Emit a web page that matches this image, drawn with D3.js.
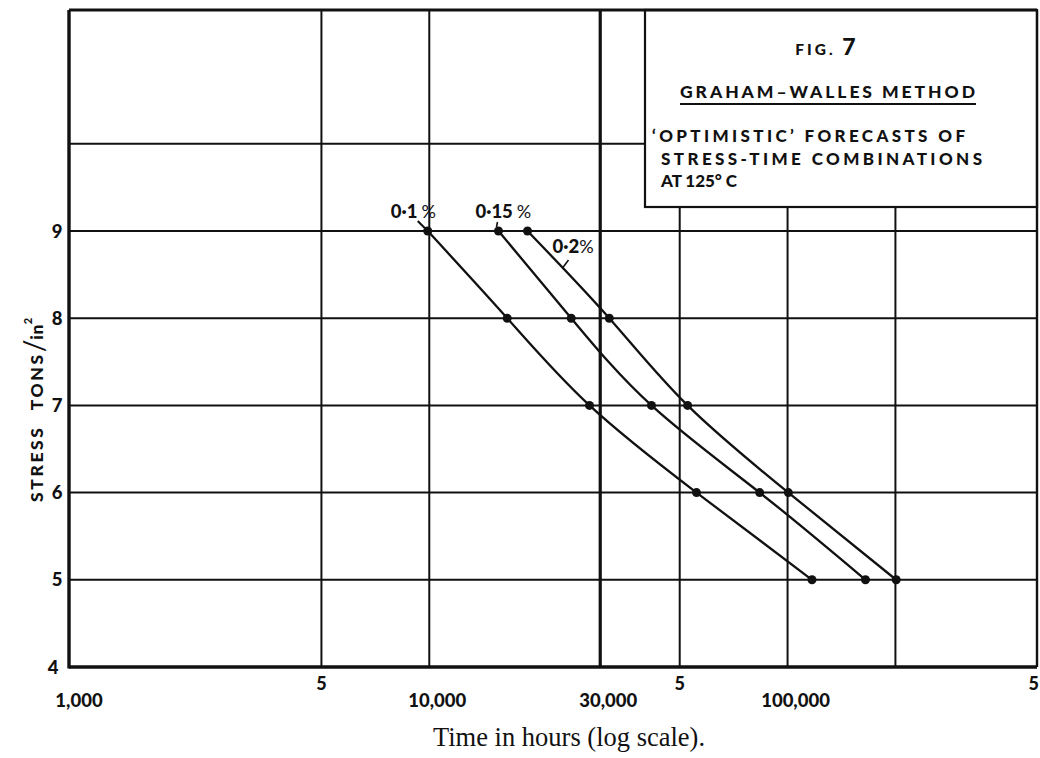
<!DOCTYPE html>
<html>
<head>
<meta charset="utf-8">
<script src="https://cdn.jsdelivr.net/npm/d3@7"></script>
<style>
  html, body { margin: 0; padding: 0; background: #fff; }
  svg { display: block; }
  .bold { font-family: Lato, "DejaVu Sans", sans-serif; font-weight: 900; fill: #111; }
</style>
</head>
<body>
<svg id="chart" width="1040" height="758"></svg>
<script>
// Creep forecasts: stress (tons/in²) against time to reach a given strain (hours, log scale)
const stressLevels = [9, 8, 7, 6, 5];
const hoursStrain01 = [9900, 16500, 28000, 55700, 117000];
const hoursStrain015 = [15600, 24900, 41700, 83600, 165000];
const hoursStrain02 = [18800, 31800, 52600, 100500, 201000];
const seriesNames = ["0·1", "0·15", "0·2"];

const xGridValues = [5000, 10000, 30000, 50000, 100000, 200000];
const xNumberTicks = [1000, 10000, 30000, 100000];
const xNumberLabels = ["1,000", "10,000", "30,000", "100,000"];
const xFiveTicks = [5000, 50000, 500000];
const yGridValues = [5, 6, 7, 8, 9, 10];
const yTickValues = [4, 5, 6, 7, 8, 9];

const svg = d3.select("#chart");
const x = d3.scaleLog().domain([1000, 500000]).range([71, 1038]);
const y = d3.scaleLinear().domain([4, 9]).range([667, 231]);

const frame = { left: 69, right: 1037, top: 10, bottom: 667 };
const box = { left: 645, right: 1037, top: 10, bottom: 207 };

// grid
svg.append("g").selectAll("line").data(yGridValues).join("line")
  .attr("x1", frame.left).attr("x2", frame.right)
  .attr("y1", d => y(d)).attr("y2", d => y(d))
  .attr("stroke", "#111").attr("stroke-width", 2);

svg.append("g").selectAll("line").data(xGridValues).join("line")
  .attr("x1", d => x(d)).attr("x2", d => x(d))
  .attr("y1", frame.top).attr("y2", frame.bottom)
  .attr("stroke", "#111").attr("stroke-width", d => d === 30000 ? 3.2 : 2);

// title panel covers the grid in the upper right
svg.append("rect")
  .attr("x", box.left).attr("y", box.top)
  .attr("width", box.right - box.left).attr("height", box.bottom - box.top)
  .attr("fill", "#fff").attr("stroke", "#111").attr("stroke-width", 2.2);

// frame
svg.append("line").attr("x1", frame.left).attr("x2", frame.left).attr("y1", frame.top).attr("y2", frame.bottom + 1.5)
  .attr("stroke", "#111").attr("stroke-width", 3.4);
svg.append("line").attr("x1", frame.left).attr("x2", frame.right).attr("y1", frame.top).attr("y2", frame.top)
  .attr("stroke", "#111").attr("stroke-width", 3.2);
svg.append("line").attr("x1", frame.left).attr("x2", frame.right).attr("y1", frame.bottom).attr("y2", frame.bottom)
  .attr("stroke", "#111").attr("stroke-width", 3.4);
svg.append("line").attr("x1", frame.right).attr("x2", frame.right).attr("y1", frame.top).attr("y2", frame.bottom)
  .attr("stroke", "#111").attr("stroke-width", 2.4);

// y tick labels
svg.append("g").selectAll("text").data(yTickValues).join("text")
  .attr("class", "bold")
  .attr("x", d => d === 4 ? 53 : 57)
  .attr("y", d => y(d) + 6.5)
  .attr("text-anchor", "middle")
  .attr("font-size", 18.5)
  .text(d => d);

// y axis title
const yTitle = svg.append("text")
  .attr("class", "bold")
  .attr("transform", "translate(43,502) rotate(-90)")
  .attr("text-anchor", "start")
  .attr("font-size", 17.5)
  .attr("letter-spacing", 2.6)
  .attr("word-spacing", 9);
yTitle.append("tspan").text("STRESS TONS");
yTitle.append("tspan").attr("font-size", 28).attr("font-weight", 400).attr("letter-spacing", 0).attr("dy", 1).text("/");
yTitle.append("tspan").attr("letter-spacing", 0.5).attr("dy", -1).text("in");
yTitle.append("tspan").attr("font-size", 11).attr("dy", -11).text("2");

// x tick labels
svg.append("g").selectAll("text").data(xNumberTicks).join("text")
  .attr("class", "bold")
  .attr("x", d => x(d) + 8)
  .attr("y", 707)
  .attr("text-anchor", "middle")
  .attr("font-size", 18.5)
  .text((d, i) => xNumberLabels[i]);

svg.append("g").selectAll("text").data(xFiveTicks).join("text")
  .attr("class", "bold")
  .attr("x", (d, i) => i === xFiveTicks.length - 1 ? x(d) + 1 : x(d))
  .attr("y", 690)
  .attr("text-anchor", (d, i) => i === xFiveTicks.length - 1 ? "end" : "middle")
  .attr("font-size", 18)
  .text("5");

// x axis title
svg.append("text")
  .attr("x", 569).attr("y", 746)
  .attr("text-anchor", "middle")
  .attr("font-family", "'Liberation Serif', 'DejaVu Serif', serif")
  .attr("font-size", 26.5)
  .attr("fill", "#111")
  .text("Time in hours (log scale).");

// curves
const seriesHours = [hoursStrain01, hoursStrain015, hoursStrain02];
const series = seriesHours.map((hrs, i) => ({
  name: seriesNames[i],
  points: hrs.map((h, j) => ({ h, s: stressLevels[j] }))
}));

const line = d3.line()
  .x(d => x(d.h)).y(d => y(d.s))
  .curve(d3.curveNatural);

const g = svg.append("g");
g.selectAll("path").data(series).join("path")
  .attr("d", d => line(d.points))
  .attr("fill", "none").attr("stroke", "#111").attr("stroke-width", 2.3);

g.selectAll("g.pts").data(series).join("g").attr("class", "pts")
  .selectAll("circle").data(d => d.points).join("circle")
  .attr("cx", d => x(d.h)).attr("cy", d => y(d.s)).attr("r", 4.5)
  .attr("fill", "#111");

// curve labels with leaders
const p01 = series[0].points[0], p015 = series[1].points[0], p02 = series[2].points[0];
function label(xp, yp, num, gap) {
  const t = svg.append("text").attr("class", "bold").attr("x", xp).attr("y", yp).attr("font-size", 18.5);
  t.append("tspan").text(num);
  t.append("tspan").attr("font-weight", 400).attr("font-size", 18).attr("dx", gap).text("%");
}
label(x(p01.h) - 37, y(p01.s) - 13, seriesNames[0], 4);
svg.append("line")
  .attr("x1", x(p01.h) - 10).attr("y1", y(p01.s) - 10)
  .attr("x2", x(p01.h)).attr("y2", y(p01.s))
  .attr("stroke", "#111").attr("stroke-width", 2);

label(x(p015.h) - 23, y(p015.s) - 13, seriesNames[1], 4);
svg.append("line")
  .attr("x1", x(p015.h) - 1).attr("y1", y(p015.s) - 9)
  .attr("x2", x(p015.h) - 2).attr("y2", y(p015.s) - 4)
  .attr("stroke", "#111").attr("stroke-width", 1.6);

label(x(p02.h) + 25, y(p02.s) + 22, seriesNames[2], 0);
svg.append("line")
  .attr("x1", x(p02.h) + 35).attr("y1", y(p02.s) + 37)
  .attr("x2", x(p02.h) + 41).attr("y2", y(p02.s) + 29)
  .attr("stroke", "#111").attr("stroke-width", 1.6);

// panel text
const fig = svg.append("text").attr("class", "bold").attr("x", 827).attr("y", 55)
  .attr("text-anchor", "middle").attr("letter-spacing", 3);
fig.append("tspan").attr("font-size", 15.5).text("FIG. ");
fig.append("tspan").attr("font-size", 23).text("7");

svg.append("text").attr("class", "bold").attr("x", 680).attr("y", 98)
  .attr("font-size", 17.5)
  .attr("textLength", 295).attr("lengthAdjust", "spacing")
  .text("GRAHAM–WALLES METHOD");
svg.append("line").attr("x1", 680).attr("x2", 976).attr("y1", 104).attr("y2", 104)
  .attr("stroke", "#111").attr("stroke-width", 2.2);

const bodyLines = ["‘OPTIMISTIC’ FORECASTS  OF", "STRESS-TIME  COMBINATIONS", "AT  125° C"];
const bodyWidths = [313, 321, 76];
svg.append("g").selectAll("text").data(bodyLines).join("text")
  .attr("class", "bold")
  .attr("x", (d, i) => i === 0 ? 652 : 661)
  .attr("y", (d, i) => [142, 165, 187][i])
  .attr("font-size", 17)
  .attr("textLength", (d, i) => bodyWidths[i]).attr("lengthAdjust", "spacing")
  .text(d => d);
</script>
</body>
</html>
